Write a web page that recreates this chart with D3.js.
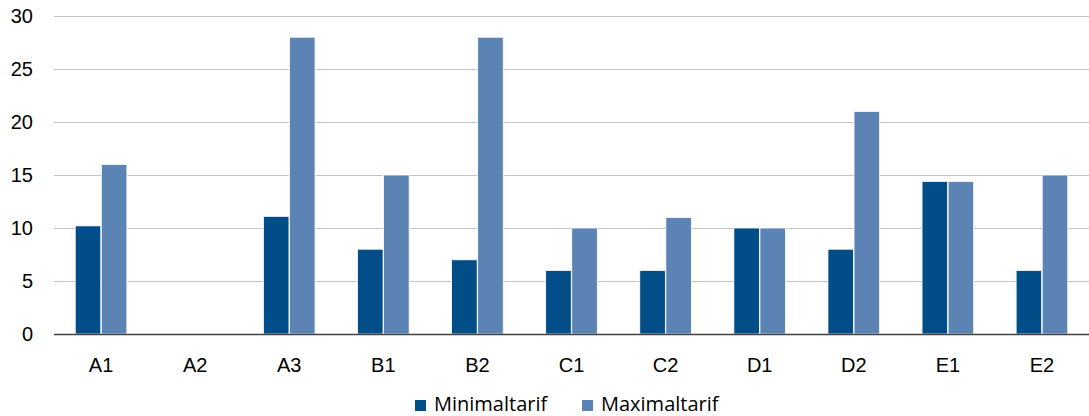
<!DOCTYPE html>
<html lang="de">
<head>
    <meta charset="UTF-8">
    <title>Minimal- und Maximaltarif</title>
    <script src="https://d3js.org/d3.v7.min.js"></script>
    <style>
        body {
            margin: 0;
            padding: 0;
            background: #fff;
            font-family: "Open Sans", "Liberation Sans", sans-serif;
        }
        svg { display: block; }
        .grid line { stroke: #c4c4c4; stroke-width: 1px; }
        .tick text { fill: #000; }
    </style>
</head>
<body>
    <svg width="1089" height="416"></svg>
    <script>
        // Daten
        const categories = ["A1", "A2", "A3", "B1", "B2", "C1", "C2", "D1", "D2", "E1", "E2"];
        const minimaltarif = [10.2, 0, 11.1, 8, 7, 6, 6, 10, 8, 14.4, 6];
        const maximaltarif = [16, 0, 28, 15, 28, 10, 11, 10, 21, 14.4, 15];
        const seriesNames = ["Minimaltarif", "Maximaltarif"];
        const yTicks = [0, 5, 10, 15, 20, 25, 30];

        const colors = ["#004d88", "#5b83b3"];
        const margin = { top: 16, right: 0, bottom: 82, left: 54 };
        const width = 1089 - margin.left - margin.right;
        const height = 416 - margin.top - margin.bottom;

        const svg = d3.select("svg");
        const g = svg.append("g")
            .attr("transform", `translate(${margin.left},${margin.top})`);

        const x = d3.scaleBand()
            .domain(categories)
            .range([0, width])
            .paddingInner(0.44)
            .paddingOuter(0.22);

        const xSeries = d3.scaleBand()
            .domain(seriesNames)
            .range([0, x.bandwidth()])
            .padding(0.02);

        const y = d3.scaleLinear()
            .domain([0, 30])
            .range([height, 0]);

        // Gitterlinien
        g.append("g")
            .attr("class", "grid")
            .selectAll("line")
            .data(yTicks.filter(d => d > 0))
            .enter()
            .append("line")
            .attr("x1", 0)
            .attr("x2", width)
            .attr("y1", d => Math.round(y(d)) + 0.5)
            .attr("y2", d => Math.round(y(d)) + 0.5);

        // Y-Achse
        const yAxis = g.append("g")
            .call(d3.axisLeft(y).tickValues(yTicks).tickSize(0).tickPadding(21));
        yAxis.select(".domain").remove();
        yAxis.selectAll("text").style("font-size", "20px");

        // Balken
        const data = categories.map((c, i) => ({
            cat: c,
            values: [minimaltarif[i], maximaltarif[i]]
        }));

        const groups = g.selectAll(".group")
            .data(data)
            .enter()
            .append("g")
            .attr("transform", d => `translate(${x(d.cat)},0)`);

        groups.selectAll("rect")
            .data(d => d.values.map((v, j) => ({ name: seriesNames[j], value: v, idx: j })))
            .enter()
            .append("rect")
            .attr("x", d => xSeries(d.name))
            .attr("y", d => y(d.value))
            .attr("width", xSeries.bandwidth())
            .attr("height", d => height - y(d.value))
            .attr("fill", d => colors[d.idx])
            .attr("stroke", "#fff")
            .attr("stroke-width", 0.8)
            .style("display", d => d.value > 0 ? null : "none");

        // X-Achse
        const xAxis = g.append("g")
            .attr("transform", `translate(0,${height})`)
            .call(d3.axisBottom(x).tickSize(0).tickPadding(24));
        xAxis.select(".domain").remove();
        xAxis.selectAll("text").style("font-size", "20px");

        g.append("line")
            .attr("x1", 0)
            .attr("x2", width)
            .attr("y1", Math.round(height) + 0.5)
            .attr("y2", Math.round(height) + 0.5)
            .attr("stroke", "#404040")
            .attr("stroke-width", 1.5);

        // Legende
        const legend = svg.append("g")
            .attr("transform", "translate(415,400)");
        const legendX = [0, 167];
        seriesNames.forEach((name, i) => {
            legend.append("rect")
                .attr("x", legendX[i])
                .attr("y", 0)
                .attr("width", 11)
                .attr("height", 11)
                .attr("fill", colors[i]);
            legend.append("text")
                .attr("x", legendX[i] + 19)
                .attr("y", 11)
                .style("font-size", "20px")
                .text(name);
        });
    </script>
</body>
</html>
